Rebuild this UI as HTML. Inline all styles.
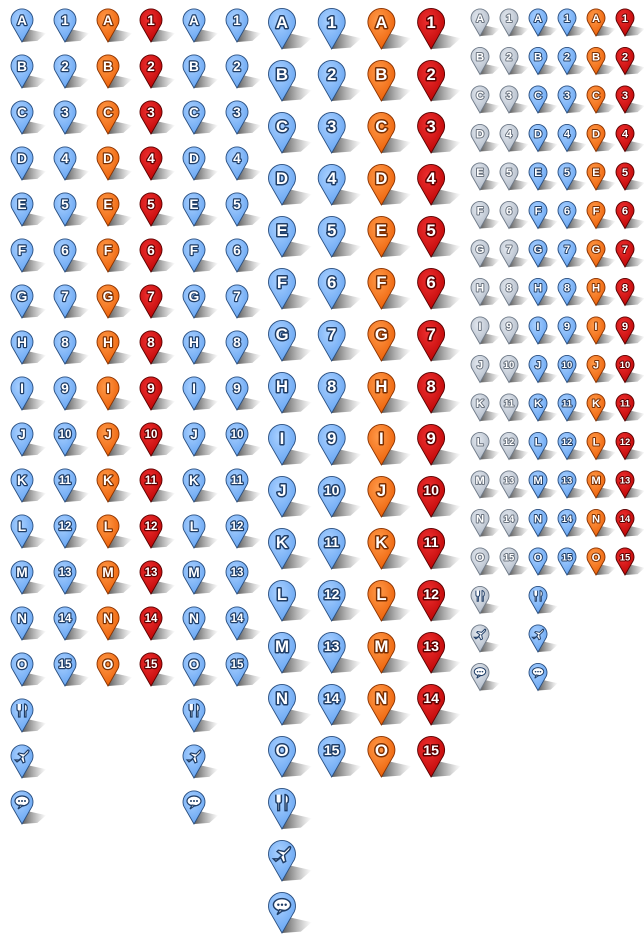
<!DOCTYPE html>
<html><head><meta charset="utf-8">
<style>
html,body{margin:0;padding:0;background:#fff;}
svg{display:block;}
text{font-family:"Liberation Sans","DejaVu Sans",sans-serif;font-weight:bold;paint-order:stroke;stroke-linejoin:round;}
</style></head>
<body>
<svg id="sheet" width="644" height="946" viewBox="0 0 644 946" xmlns="http://www.w3.org/2000/svg">
<defs>
<radialGradient id="g-blue" cx="0.4" cy="0.3" r="0.8"><stop offset="0" stop-color="#a9d0ff"/><stop offset="1" stop-color="#5e9ff0"/></radialGradient>
<radialGradient id="g-orange" cx="0.4" cy="0.3" r="0.8"><stop offset="0" stop-color="#ff9a4a"/><stop offset="1" stop-color="#ea5a00"/></radialGradient>
<radialGradient id="g-red" cx="0.4" cy="0.3" r="0.8"><stop offset="0" stop-color="#ee3030"/><stop offset="1" stop-color="#b80000"/></radialGradient>
<radialGradient id="g-gray" cx="0.4" cy="0.3" r="0.8"><stop offset="0" stop-color="#e4e9f0"/><stop offset="1" stop-color="#aab4c2"/></radialGradient>
<linearGradient id="g-shadow" x1="0" y1="0" x2="1" y2="0"><stop offset="0" stop-color="#222" stop-opacity="0.75"/><stop offset="1" stop-color="#555" stop-opacity="0"/></linearGradient>
</defs>
</svg>
<script>
const letters = ["A","B","C","D","E","F","G","H","I","J","K","L","M","N","O"];
const numbers = ["1","2","3","4","5","6","7","8","9","10","11","12","13","14","15"];
const icons = ["food","plane","chat"];
// section 1: small markers
const sec1Cols = [["blue","L"],["blue","N"],["orange","L"],["red","N"],["blue","L"],["blue","N"]];
const sec1IconCols = [0,4];
// section 2: large markers
const sec2Cols = [["blue","L"],["blue","N"],["orange","L"],["red","N"]];
const sec2IconCols = [0];
// section 3: tiny markers
const sec3Cols = [["gray","L"],["gray","N"],["blue","L"],["blue","N"],["orange","L"],["red","N"]];
const sec3IconCols = [0,2];

const sections = [
  {name:"small", cols:sec1Cols, iconCols:sec1IconCols, x0:22, dx:43, y0:20, dy:46, r:11},
  {name:"large", cols:sec2Cols, iconCols:sec2IconCols, x0:282, dx:49.7, y0:22, dy:52, r:13.5},
  {name:"tiny", cols:sec3Cols, iconCols:sec3IconCols, x0:480, dx:29, y0:18, dy:38.5, r:9}
];
const strokeCol = {blue:"#2a4f80",orange:"#8a3300",red:"#5a0000",gray:"#6f7a88"};
const textStroke = {blue:"#1f3d66",orange:"#7a2e00",red:"#600000",gray:"#6b7480"};
const NS="http://www.w3.org/2000/svg";
const svg=document.getElementById("sheet");
function el(t,a,p){const e=document.createElementNS(NS,t);for(const k in a)e.setAttribute(k,a[k]);(p||svg).appendChild(e);return e;}

function drawMarker(cx,cy,r,color,label,icon,name){
  const g=el("g",{});
  
  
  const tip=cy+2*r;
  // shadow
  el("path",{d:`M${cx},${tip} L${cx+0.6*r},${tip-1.15*r} L${cx+2.2*r},${tip-0.8*r} L${cx+1.4*r},${tip-0.1*r} Z`,fill:"url(#g-shadow)"},g);
  const a=0.82*r, b=cy+0.57*r;
  el("path",{d:`M${cx},${tip} L${cx-a},${b} A${r},${r} 0 1 1 ${cx+a},${b} Z`,fill:`url(#g-${color})`,stroke:strokeCol[color],"stroke-width":0.9},g);
  if(label!==null){
    const fs=label.length>1? r*1.05 : r*1.25;
    const t=el("text",{x:cx,y:cy+fs*0.36,"text-anchor":"middle","font-size":fs,fill:"#fff",stroke:textStroke[color],"stroke-width":r*0.22},g);
    t.textContent=label;
  } else {
    const s=r/11;
    const ic=el("g",{transform:`translate(${cx},${cy}) scale(${s})`},g);
    const st={stroke:"#1f3d66","stroke-width":1.2,fill:"#fff"};
    if(icon==="food"){
      el("path",Object.assign({d:"M-5,-6 L-5,-1 Q-5,1 -3.5,1 L-3.5,7 L-2,7 L-2,1 Q-0.5,1 -0.5,-1 L-0.5,-6"},st),ic);
      el("path",Object.assign({d:"M3,-6 Q6,-5 5,0 L4,1 L4,7 L2.5,7 L2.5,-6 Z"},st),ic);
    } else if(icon==="plane"){
      el("path",Object.assign({d:"M-7,4 L-5,6 L-1,3 L1,7 L3,6 L2,1 L6,-3 Q8,-6 6,-6 L2,-2 L-3,-3 L-4,-2 L0,1 L-3,4 Z"},st),ic);
    } else {
      el("ellipse",Object.assign({cx:0,cy:-1,rx:7,ry:5},st),ic);
      el("path",Object.assign({d:"M-2,3 L-4,7 L1,3.5 Z"},st),ic);
      for(const dx of [-3,0,3]) el("circle",{cx:dx,cy:-1,r:1,fill:"#1f3d66"},ic);
    }
  }
}

sections.forEach(sec=>{
  sec.cols.forEach((c,ci)=>{
    const labels=c[1]==="L"?letters:numbers;
    labels.forEach((lb,ri)=>{
      drawMarker(sec.x0+ci*sec.dx, sec.y0+ri*sec.dy, sec.r, c[0], lb, null, `${sec.name}-${c[0]}-marker-${lb}`);
    });
  });
  sec.iconCols.forEach(ci=>{
    const c=sec.cols[ci];
    icons.forEach((ic,ii)=>{
      drawMarker(sec.x0+ci*sec.dx, sec.y0+(letters.length+ii)*sec.dy, sec.r, c[0], null, ic, `${sec.name}-${c[0]}-${ic}-marker`);
    });
  });
});
</script>
</body></html>
